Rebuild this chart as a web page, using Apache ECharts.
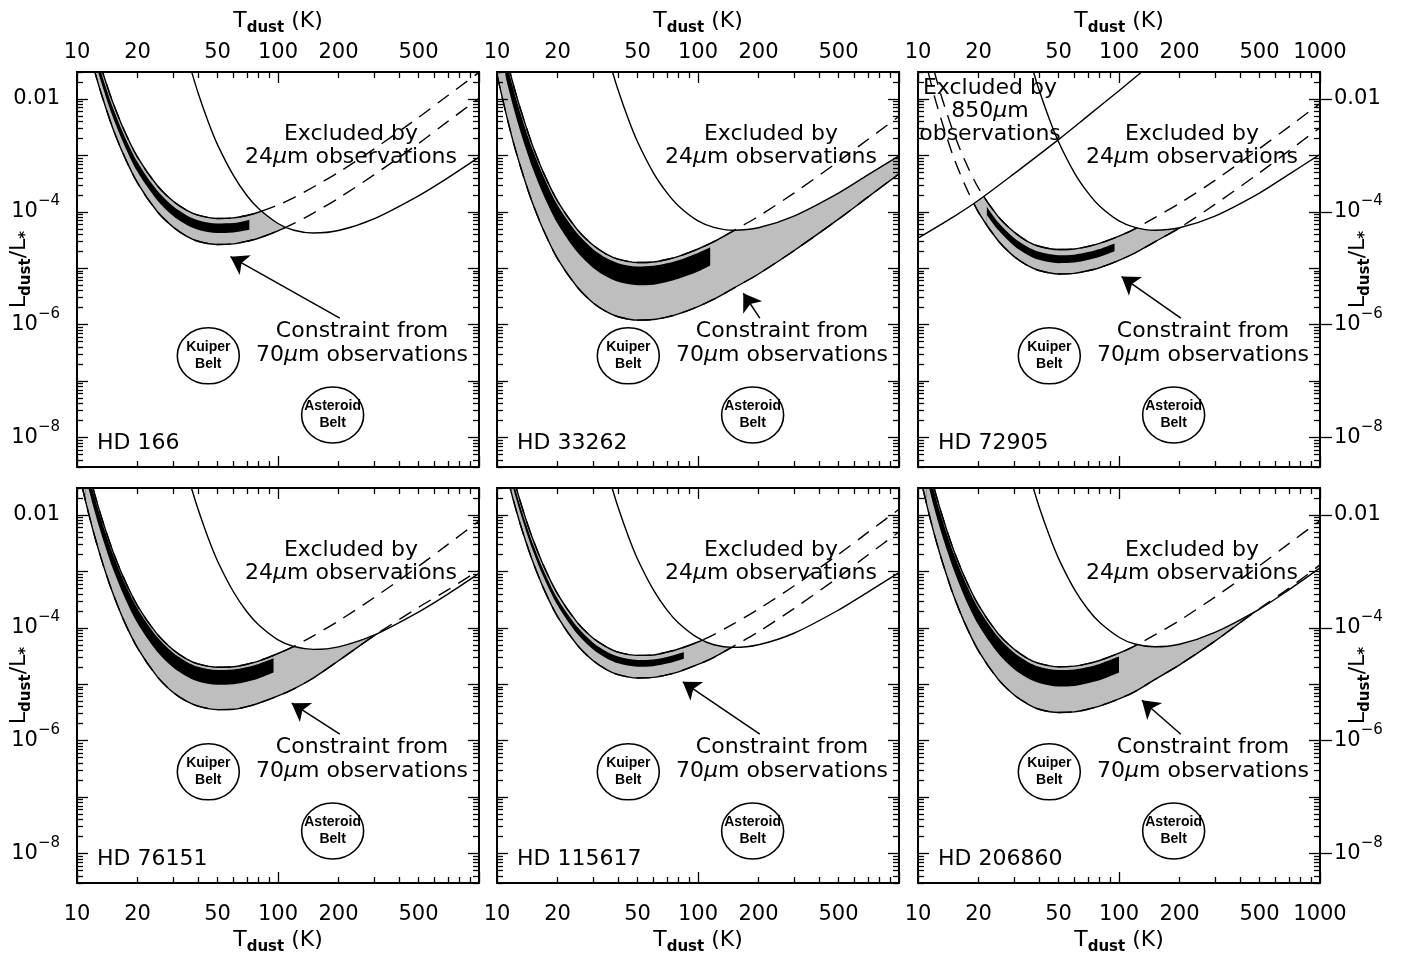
<!DOCTYPE html>
<html>
<head>
<meta charset="utf-8">
<script src="https://cdn.jsdelivr.net/npm/echarts@6/dist/echarts.min.js"></script>
<style>
  html, body { margin: 0; background: #fff; }
  #chart { width: 1408px; height: 960px; }
</style>
</head>
<body>
<div id="chart"></div>
<script>
// temperature grids (K)
const T24 = [35, 37, 40, 45, 50, 60, 70, 80, 100, 120, 150, 200, 300, 500, 700, 1000];
const T70 = [10, 11, 12, 13, 14, 15, 17, 20, 25, 30, 35, 40, 50, 60, 70, 80, 100, 120, 150, 200, 300, 500, 700, 1000];
const T850 = [10, 15, 20, 30, 50, 70, 100, 150];

// HD 166
const hd166_24 = [0.063, 0.032, 0.0129, 3.9e-3, 1.55e-3, 4.4e-4, 1.94e-4, 1.14e-4, 6.2e-5, 4.7e-5, 4.2e-5, 4.65e-5, 7.5e-5, 1.92e-4, 4.0e-4, 9.3e-4];
const hd166_hi = [1.7, 0.39, 0.115, 0.0427, 0.0186, 9.1e-3, 3.0e-3, 9.3e-4, 2.95e-4, 1.55e-4, 1.07e-4, 8.7e-5, 7.6e-5, 7.8e-5, 8.6e-5, 9.8e-5, 1.32e-4, 1.78e-4, 2.75e-4, 5.0e-4, 1.29e-3, 4.7e-3, 0.0115, 0.0295];
const hd166_lo = [0.59, 0.135, 0.040, 0.0148, 6.5e-3, 3.16e-3, 1.05e-3, 3.24e-4, 1.02e-4, 5.4e-5, 3.7e-5, 3.0e-5, 2.63e-5, 2.7e-5, 3.0e-5, 3.4e-5, 4.6e-5, 6.2e-5, 9.5e-5, 1.74e-4, 4.5e-4, 1.62e-3, 4.0e-3, 0.0102];
const hd166_bandTop = [[12, 0.093], [13, 0.0347], [14, 0.0151], [15, 7.4e-3], [17, 2.45e-3], [20, 7.6e-4], [25, 2.4e-4], [30, 1.26e-4], [35, 8.7e-5], [40, 7.1e-5], [50, 6.2e-5], [60, 6.3e-5], [70, 7.0e-5], [72, 7.2e-5]];
const hd166_bandBot = [[12, 0.063], [13, 0.0234], [14, 0.0102], [15, 5.0e-3], [17, 1.66e-3], [20, 5.1e-4], [25, 1.62e-4], [30, 8.5e-5], [35, 5.9e-5], [40, 4.8e-5], [50, 4.2e-5], [60, 4.3e-5], [70, 4.7e-5], [77, 5.1e-5]];
const hd166_tip = [58, 1.6e-5];

// HD 33262
const hd33262_24 = [0.071, 0.036, 0.0145, 4.4e-3, 1.74e-3, 4.9e-4, 2.18e-4, 1.27e-4, 6.9e-5, 5.3e-5, 4.7e-5, 5.2e-5, 8.4e-5, 2.15e-4, 4.5e-4, 9.8e-4];
const hd33262_hi = [0.28, 0.065, 0.019, 7.1e-3, 3.1e-3, 1.51e-3, 5.0e-4, 1.55e-4, 4.9e-5, 2.57e-5, 1.78e-5, 1.45e-5, 1.26e-5, 1.29e-5, 1.43e-5, 1.62e-5, 2.19e-5, 2.95e-5, 4.6e-5, 8.3e-5, 2.14e-4, 7.8e-4, 1.91e-3, 4.9e-3];
const hd33262_lo = [0.027, 6.2e-3, 1.82e-3, 6.8e-4, 2.95e-4, 1.45e-4, 4.8e-5, 1.48e-5, 4.7e-6, 2.45e-6, 1.70e-6, 1.38e-6, 1.20e-6, 1.23e-6, 1.36e-6, 1.55e-6, 2.09e-6, 2.82e-6, 4.4e-6, 7.9e-6, 2.04e-5, 7.4e-5, 1.82e-4, 4.7e-4];
const hd33262_bandTop = [[11, 0.055], [12, 0.0162], [13, 6.0e-3], [14, 2.63e-3], [15, 1.29e-3], [17, 4.3e-4], [20, 1.32e-4], [25, 4.2e-5], [30, 2.19e-5], [35, 1.51e-5], [40, 1.23e-5], [50, 1.07e-5], [60, 1.10e-5], [70, 1.22e-5], [80, 1.38e-5], [100, 1.86e-5], [115, 2.34e-5]];
const hd33262_bandBot = [[10.5, 0.051], [11, 0.0257], [12, 7.6e-3], [13, 2.82e-3], [14, 1.23e-3], [15, 6.0e-4], [17, 2.0e-4], [20, 6.2e-5], [25, 1.95e-5], [30, 1.02e-5], [35, 7.1e-6], [40, 5.75e-6], [50, 5.0e-6], [60, 5.1e-6], [70, 5.7e-6], [80, 6.5e-6], [100, 8.7e-6], [130, 1.41e-5]];
const hd33262_tip = [168, 3.6e-6];

// HD 72905
const hd72905_24 = [0.071, 0.036, 0.0145, 4.4e-3, 1.74e-3, 4.9e-4, 2.18e-4, 1.27e-4, 6.9e-5, 5.3e-5, 4.7e-5, 5.2e-5, 8.4e-5, 2.15e-4, 4.6e-4, 1.04e-3];
const hd72905_hi = [0.48, 0.110, 0.0324, 0.0120, 5.25e-3, 2.57e-3, 8.5e-4, 2.63e-4, 8.3e-5, 4.4e-5, 3.0e-5, 2.45e-5, 2.14e-5, 2.19e-5, 2.43e-5, 2.75e-5, 3.7e-5, 5.0e-5, 7.8e-5, 1.41e-4, 3.6e-4, 1.32e-3, 3.2e-3, 8.3e-3];
const hd72905_lo = [0.178, 0.041, 0.0120, 4.5e-3, 1.95e-3, 9.5e-4, 3.16e-4, 9.8e-5, 3.1e-5, 1.62e-5, 1.12e-5, 9.1e-6, 7.9e-6, 8.1e-6, 9.0e-6, 1.02e-5, 1.38e-5, 1.86e-5, 2.9e-5, 5.2e-5, 1.35e-4, 4.9e-4, 1.20e-3, 3.1e-3];
const hd72905_bandTop = [[22, 1.23e-4], [25, 6.6e-5], [30, 3.47e-5], [35, 2.4e-5], [40, 1.95e-5], [50, 1.70e-5], [60, 1.74e-5], [70, 1.93e-5], [80, 2.19e-5], [95, 2.75e-5]];
const hd72905_bandBot = [[22, 8.9e-5], [25, 4.8e-5], [30, 2.51e-5], [35, 1.74e-5], [40, 1.41e-5], [50, 1.23e-5], [60, 1.26e-5], [70, 1.40e-5], [80, 1.58e-5], [100, 2.14e-5]];
const hd72905_850 = [3.4e-5, 8.1e-5, 1.6e-4, 4.7e-4, 1.9e-3, 5.0e-3, 1.4e-2, 4.6e-2];
const hd72905_tip = [103, 7.1e-6];

// HD 76151
const hd76151_24 = [0.062, 0.031, 0.0127, 3.85e-3, 1.53e-3, 4.35e-4, 1.92e-4, 1.13e-4, 6.1e-5, 4.65e-5, 4.15e-5, 4.6e-5, 7.4e-5, 1.9e-4, 3.95e-4, 9.2e-4];
const hd76151_hi = [0.45, 0.102, 0.0302, 0.0112, 4.9e-3, 2.4e-3, 7.9e-4, 2.45e-4, 7.8e-5, 4.1e-5, 2.82e-5, 2.29e-5, 2.0e-5, 2.04e-5, 2.26e-5, 2.57e-5, 3.5e-5, 4.7e-5, 7.2e-5, 1.32e-4, 3.4e-4, 1.23e-3, 3.0e-3, 7.8e-3];
const hd76151_lo = [0.079, 0.0182, 5.4e-3, 2.0e-3, 8.7e-4, 4.3e-4, 1.41e-4, 4.4e-5, 1.38e-5, 7.2e-6, 5.0e-6, 4.1e-6, 3.55e-6, 3.6e-6, 4.0e-6, 4.6e-6, 6.2e-6, 8.3e-6, 1.29e-5, 2.6e-5, 7.2e-5, 2.3e-4, 4.7e-4, 1.05e-3];
const hd76151_bandTop = [[11, 0.091], [12, 0.0269], [13, 0.0100], [14, 4.37e-3], [15, 2.14e-3], [17, 7.1e-4], [20, 2.19e-4], [25, 6.9e-5], [30, 3.63e-5], [35, 2.51e-5], [40, 2.04e-5], [50, 1.78e-5], [60, 1.82e-5], [70, 2.02e-5], [80, 2.29e-5], [95, 2.88e-5]];
const hd76151_bandBot = [[11, 0.050], [12, 0.0148], [13, 5.5e-3], [14, 2.4e-3], [15, 1.17e-3], [17, 3.9e-4], [20, 1.20e-4], [25, 3.8e-5], [30, 2.0e-5], [35, 1.38e-5], [40, 1.12e-5], [50, 9.8e-6], [60, 1.0e-5], [70, 1.11e-5], [80, 1.26e-5], [108, 1.95e-5]];
const hd76151_tip = [117, 4.6e-6];

// HD 115617
const hd115617_24 = [0.0675, 0.034, 0.0138, 4.2e-3, 1.66e-3, 4.7e-4, 2.08e-4, 1.22e-4, 6.6e-5, 5.0e-5, 4.5e-5, 5.0e-5, 8.0e-5, 2.06e-4, 4.3e-4, 9.5e-4];
const hd115617_hi = [0.72, 0.166, 0.049, 0.0182, 7.9e-3, 3.9e-3, 1.29e-3, 4.0e-4, 1.26e-4, 6.6e-5, 4.6e-5, 3.7e-5, 3.24e-5, 3.3e-5, 3.7e-5, 4.2e-5, 5.6e-5, 7.6e-5, 1.17e-4, 2.14e-4, 5.5e-4, 2.0e-3, 4.9e-3, 0.0126];
const hd115617_lo = [0.29, 0.066, 0.0195, 7.2e-3, 3.16e-3, 1.55e-3, 5.1e-4, 1.58e-4, 5.0e-5, 2.63e-5, 1.82e-5, 1.48e-5, 1.29e-5, 1.32e-5, 1.46e-5, 1.66e-5, 2.24e-5, 3.0e-5, 4.7e-5, 8.5e-5, 2.19e-4, 7.9e-4, 1.95e-3, 5.0e-3];
const hd115617_bandTop = [[11.5, 0.074], [12, 0.0407], [13, 0.0151], [14, 6.6e-3], [15, 3.24e-3], [17, 1.07e-3], [20, 3.3e-4], [25, 1.05e-4], [30, 5.5e-5], [35, 3.8e-5], [40, 3.09e-5], [50, 2.69e-5], [60, 2.75e-5], [70, 3.05e-5], [80, 3.47e-5], [85, 3.72e-5]];
const hd115617_bandBot = [[11.5, 0.056], [12, 0.0309], [13, 0.0115], [14, 5.0e-3], [15, 2.45e-3], [17, 8.1e-4], [20, 2.51e-4], [25, 7.9e-5], [30, 4.17e-5], [35, 2.88e-5], [40, 2.34e-5], [50, 2.04e-5], [60, 2.09e-5], [70, 2.32e-5], [80, 2.63e-5], [90, 3.02e-5]];
const hd115617_tip = [84, 1.1e-5];

// HD 206860
const hd206860_24 = [0.069, 0.035, 0.0141, 4.3e-3, 1.70e-3, 4.8e-4, 2.13e-4, 1.25e-4, 6.8e-5, 5.15e-5, 4.6e-5, 5.1e-5, 8.3e-5, 2.15e-4, 4.7e-4, 1.15e-3];
const hd206860_hi = [0.46, 0.105, 0.031, 0.0115, 5.0e-3, 2.45e-3, 8.1e-4, 2.51e-4, 7.9e-5, 4.2e-5, 2.88e-5, 2.34e-5, 2.04e-5, 2.09e-5, 2.32e-5, 2.63e-5, 3.55e-5, 4.8e-5, 7.4e-5, 1.35e-4, 3.5e-4, 1.26e-3, 3.1e-3, 7.9e-3];
const hd206860_lo = [0.071, 0.0162, 4.8e-3, 1.78e-3, 7.8e-4, 3.8e-4, 1.26e-4, 3.9e-5, 1.23e-5, 6.5e-6, 4.5e-6, 3.6e-6, 3.16e-6, 3.24e-6, 3.6e-6, 4.1e-6, 5.5e-6, 7.4e-6, 1.2e-5, 2.2e-5, 5.8e-5, 2.2e-4, 5.0e-4, 1.3e-3];
const hd206860_bandTop = [[11, 0.091], [12, 0.0269], [13, 0.0100], [14, 4.37e-3], [15, 2.14e-3], [17, 7.1e-4], [20, 2.19e-4], [25, 6.9e-5], [30, 3.63e-5], [35, 2.51e-5], [40, 2.04e-5], [50, 1.78e-5], [60, 1.82e-5], [70, 2.02e-5], [80, 2.29e-5], [100, 3.09e-5]];
const hd206860_bandBot = [[11, 0.047], [12, 0.0138], [13, 5.1e-3], [14, 2.24e-3], [15, 1.10e-3], [17, 3.6e-4], [20, 1.12e-4], [25, 3.55e-5], [30, 1.86e-5], [35, 1.29e-5], [40, 1.05e-5], [50, 9.1e-6], [60, 9.3e-6], [70, 1.04e-5], [80, 1.17e-5], [109, 1.82e-5]];
const hd206860_tip = [130, 5.2e-6];

// shared markers
const kuiperBelt = [45, 2.8e-7];
const asteroidBelt = [187, 2.5e-8];
const arrowTail = [203, 1.3e-6];

// ticks and labels
const xMajor = [10, 100, 1000];
const xMinor = [20, 30, 40, 50, 60, 70, 80, 90, 200, 300, 400, 500, 600, 700, 800, 900];
const xLabels = [10, 20, 50, 100, 200, 500];
const xLabelsLast = [10, 20, 50, 100, 200, 500, 1000];
const yMajor = [1e-8, 1e-7, 1e-6, 1e-5, 1e-4, 1e-3, 1e-2];
const yLabels = [1e-8, 1e-6, 1e-4, 1e-2];
const yMinor = [];
for (let e = -9; e <= -2; e++) for (let m = 2; m <= 9; m++) yMinor.push(m * Math.pow(10, e));

const panels = [
  { name: 'HD 166', c24: hd166_24, hi: hd166_hi, lo: hd166_lo, bTop: hd166_bandTop, bBot: hd166_bandBot, tip: hd166_tip },
  { name: 'HD 33262', c24: hd33262_24, hi: hd33262_hi, lo: hd33262_lo, bTop: hd33262_bandTop, bBot: hd33262_bandBot, tip: hd33262_tip },
  { name: 'HD 72905', c24: hd72905_24, hi: hd72905_hi, lo: hd72905_lo, bTop: hd72905_bandTop, bBot: hd72905_bandBot, tip: hd72905_tip, c850: hd72905_850 },
  { name: 'HD 76151', c24: hd76151_24, hi: hd76151_hi, lo: hd76151_lo, bTop: hd76151_bandTop, bBot: hd76151_bandBot, tip: hd76151_tip },
  { name: 'HD 115617', c24: hd115617_24, hi: hd115617_hi, lo: hd115617_lo, bTop: hd115617_bandTop, bBot: hd115617_bandBot, tip: hd115617_tip },
  { name: 'HD 206860', c24: hd206860_24, hi: hd206860_hi, lo: hd206860_lo, bTop: hd206860_bandTop, bBot: hd206860_bandBot, tip: hd206860_tip }
];

// layout
const GL = [77, 497, 918], GT = [72, 488], GW = 402, GH = 395;
const FONT = 'DejaVu Sans';
const GRAY = '#bebebe';
const SMOOTH = 0.3;

const pairs = (xs, ys) => xs.map((x, i) => [x, ys[i]]);

const nameRich = {
  t: { fontFamily: FONT, fontSize: 22, lineHeight: 30, color: '#000' },
  d: { fontFamily: FONT, fontSize: 15, fontWeight: 'bold', lineHeight: 15, verticalAlign: 'bottom', color: '#000' }
};
const xName = {
  name: '{t|T}{d|dust}{t| (K)}',
  nameLocation: 'middle',
  nameMoveOverlap: false,
  nameTextStyle: { rich: nameRich }
};
const yName = {
  name: '{t|L}{d|dust}{t|/L}{d|*}',
  nameLocation: 'middle',
  nameRotate: 90,
  nameMoveOverlap: false,
  nameTextStyle: { rich: nameRich }
};

function xAx(gi, position, ticks, len, labels, withName) {
  const ax = {
    type: 'log', gridIndex: gi, position, min: 10, max: 1000, z: 20,
    nameMoveOverlap: false,
    axisLine: { show: len > 8, lineStyle: { color: '#000', width: 2 } },
    axisTick: { show: true, inside: true, length: len, customValues: ticks, lineStyle: { color: '#000', width: 1.3 } },
    axisLabel: labels ? {
      show: true, customValues: labels, color: '#000', fontFamily: FONT, fontSize: 21,
      margin: position === 'top' ? 9 : 21, formatter: v => String(Math.round(v))
    } : { show: false },
    splitLine: { show: false }
  };
  if (withName) Object.assign(ax, xName, { nameGap: position === 'top' ? 36 : 42 });
  return ax;
}

function yAx(gi, position, ticks, len, labels, withName, outward) {
  const ax = {
    type: 'log', gridIndex: gi, position, min: 3e-9, max: 0.03, z: 20,
    nameMoveOverlap: false,
    axisLine: { show: len > 8 && !outward, lineStyle: { color: '#000', width: 2 } },
    axisTick: { show: true, inside: !outward, length: len, customValues: ticks, lineStyle: { color: '#000', width: 1.3 } },
    axisLabel: labels ? {
      show: true, customValues: labels, color: '#000', fontFamily: FONT, fontSize: 21,
      margin: position === 'left' ? 17 : 14,
      formatter: v => {
        const e = Math.round(Math.log10(v));
        return e === -2 ? '{b|0.01}' : '{b|10}{s|\u2212' + (-e) + '}';
      },
      rich: {
        b: { fontFamily: FONT, fontSize: 21, lineHeight: 36, color: '#000' },
        s: { fontFamily: FONT, fontSize: 15, lineHeight: 15, verticalAlign: 'top', color: '#000' }
      }
    } : { show: false },
    splitLine: { show: false }
  };
  if (withName) Object.assign(ax, yName, { nameGap: position === 'left' ? 43 : 23 });
  return ax;
}

function note(x, y, text, align) {
  return {
    type: 'text', x, y, z: 50, silent: true,
    style: {
      text, fill: '#000', fontFamily: FONT, fontSize: 22,
      align: align || 'center', verticalAlign: 'middle',
      textAlign: align || 'center', textVerticalAlign: 'middle',
      rich: { i: { fontFamily: FONT, fontSize: 22, fontStyle: 'italic', fill: '#000' } }
    }
  };
}

const option = { animation: false, backgroundColor: '#fff', grid: [], xAxis: [], yAxis: [], series: [], graphic: [] };

panels.forEach((p, k) => {
  const col = k % 3, row = Math.floor(k / 3);
  const gl = GL[col], gt = GT[row];
  option.grid.push({ left: gl, top: gt, width: GW, height: GH, show: false, containLabel: false, outerBoundsMode: 'none' });

  const xi = option.xAxis.length;
  const lbl = col === 2 ? xLabelsLast : xLabels;
  option.xAxis.push(xAx(k, 'bottom', xMajor, 11, row === 1 ? lbl : null, row === 1));
  option.xAxis.push(xAx(k, 'bottom', xMinor, 6, null, false));
  option.xAxis.push(xAx(k, 'top', xMajor, 11, row === 0 ? lbl : null, row === 0));
  option.xAxis.push(xAx(k, 'top', xMinor, 6, null, false));

  const yi = option.yAxis.length;
  option.yAxis.push(yAx(k, 'left', yMajor, 11, col === 0 ? yLabels : null, col === 0));
  option.yAxis.push(yAx(k, 'left', yMinor, 6, null, false));
  option.yAxis.push(yAx(k, 'right', yMajor, 11, col === 2 ? yLabels : null, col === 2));
  option.yAxis.push(yAx(k, 'right', yMinor, 6, null, false));
  if (col === 2) option.yAxis.push(yAx(k, 'right', yLabels, 12, null, false, true));

  const base = { type: 'line', xAxisIndex: xi, yAxisIndex: yi, symbol: 'none', smooth: SMOOTH, silent: true, animation: false };
  const area = (data, color, origin, z) => Object.assign({}, base, {
    data, z, lineStyle: { width: 0, opacity: 0 }, areaStyle: { color, opacity: 1, origin }
  });
  const curve = (data, z, dashed) => Object.assign({}, base, {
    data, z, lineStyle: { color: '#000', width: 1.4, type: dashed ? [14, 9] : 'solid' }
  });

  const hi = pairs(T70, p.hi), lo = pairs(T70, p.lo), c24 = pairs(T24, p.c24);

  // gray constraint band with black best-fit strip
  option.series.push(area(hi, GRAY, 'start', 1));
  option.series.push(area(p.bTop, '#000', 'start', 2));
  option.series.push(area(p.bBot, GRAY, 'start', 3));
  option.series.push(area(lo, '#fff', 'start', 4));
  option.series.push(curve(hi, 5, false));
  option.series.push(curve(lo, 5, false));
  // excluded regions
  option.series.push(area(c24, '#fff', 'end', 6));
  let c850 = null;
  if (p.c850) {
    c850 = pairs(T850, p.c850);
    option.series.push(area(c850, '#fff', 'end', 6));
  }
  option.series.push(curve(hi, 7, true));
  option.series.push(curve(lo, 7, true));
  option.series.push(curve(c24, 7, false));
  if (c850) option.series.push(curve(c850, 7, false));

  // belts and arrow
  const beltLabel = { show: true, position: 'inside', color: '#000', opacity: 1, textBorderWidth: 0, fontFamily: 'Liberation Sans', fontWeight: 'bold', fontSize: 14, lineHeight: 17 };
  option.series.push({
    type: 'scatter', xAxisIndex: xi, yAxisIndex: yi, z: 8, silent: true, animation: false,
    symbol: 'circle', symbolSize: [62, 56],
    itemStyle: { color: '#fff', borderColor: '#000', borderWidth: 1.5, opacity: 1 },
    data: [
      { value: kuiperBelt, label: Object.assign({ formatter: 'Kuiper\nBelt' }, beltLabel) },
      { value: asteroidBelt, label: Object.assign({ formatter: 'Asteroid\nBelt' }, beltLabel) }
    ],
    markLine: {
      silent: true, animation: false, symbol: ['none', 'arrow'], symbolSize: 17,
      label: { show: false },
      lineStyle: { color: '#000', width: 1.5, type: 'solid', opacity: 1 },
      data: [[{ coord: arrowTail }, { coord: p.tip }]]
    }
  });

  // annotations
  option.graphic.push(note(gl + 274, gt + 62, 'Excluded by'));
  option.graphic.push(note(gl + 274, gt + 85, '24{i|\u03bc}m observations'));
  option.graphic.push(note(gl + 285, gt + 259, 'Constraint from'));
  option.graphic.push(note(gl + 285, gt + 283, '70{i|\u03bc}m observations'));
  option.graphic.push(note(gl + 20, gt + 371, p.name, 'left'));
  if (p.c850) {
    option.graphic.push(note(gl + 72, gt + 16, 'Excluded by'));
    option.graphic.push(note(gl + 72, gt + 39, '850{i|\u03bc}m'));
    option.graphic.push(note(gl + 72, gt + 62, 'observations'));
  }
});

const chart = echarts.init(document.getElementById('chart'));
chart.setOption(option);
</script>
</body>
</html>
